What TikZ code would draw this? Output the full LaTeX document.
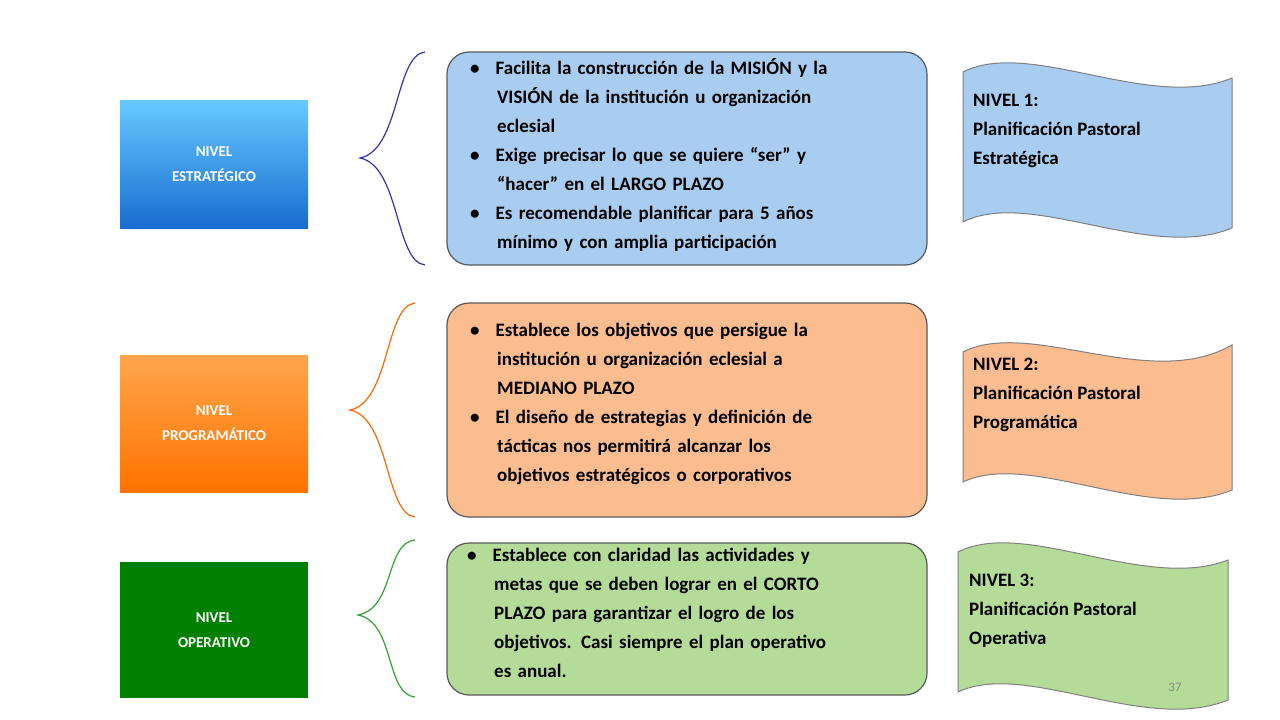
\documentclass[tikz,border=0pt]{standalone}
\usepackage{fontspec}
\setmainfont{Carlito}
\begin{document}
\begin{tikzpicture}[x=1pt,y=-1pt,
  lvl/.style={text=white,font=\bfseries\fontsize{12}{19}\selectfont,align=center,drop shadow={opacity=0.3}},
  rbox/.style={draw=black!65,line width=1.2pt,rounded corners=22pt},
  btxt/.style={anchor=north west,text width=410pt,align=left,inner sep=0pt,font=\bfseries\fontsize{19}{29}\selectfont},
  wtxt/.style={anchor=north west,align=left,inner sep=0pt,font=\bfseries\fontsize{19}{29}\selectfont},
  brace/.style={line width=1.2pt}]
\useasboundingbox (0,0) rectangle (1280,720);
\definecolor{bfill}{HTML}{A9CDF1}
\definecolor{ofill}{HTML}{FBBC90}
\definecolor{gfill}{HTML}{B4DC98}
% left boxes
\shade[top color=blue!35!cyan!60!white,bottom color=blue!55!cyan!80!black!90] (120,100) rectangle (308,228);
\node[text=white,font=\bfseries\fontsize{15}{25}\selectfont,align=center] (l1) at (214,164) {NIVEL\\ESTRATÉGICO};
\shade[top color=orange!70,bottom color=orange!90!red] (120,355) rectangle (308,492);
\node[text=white,font=\bfseries\fontsize{15}{25}\selectfont,align=center] (l2) at (214,423) {NIVEL\\PROGRAMÁTICO};
\fill[green!50!black] (120,562) rectangle (308,698);
\node[text=white,font=\bfseries\fontsize{15}{25}\selectfont,align=center] (l3) at (214,630) {NIVEL\\OPERATIVO};
% braces
\draw[brace,blue!60!black!80] (425,52) .. controls (395,55) and (400,150) .. (360,158) .. controls (400,166) and (395,262) .. (425,265);
\draw[brace,orange!80!red] (415,303) .. controls (385,306) and (390,402) .. (350,410) .. controls (390,418) and (385,514) .. (415,517);
\draw[brace,green!55!black!80] (415,540) .. controls (385,543) and (395,608) .. (358,615) .. controls (395,622) and (385,694) .. (415,697);
% rounded boxes
\draw[rbox,fill=bfill] (447,52) rectangle (927,265);
\draw[rbox,fill=ofill] (447,303) rectangle (927,517);
\draw[rbox,fill=gfill] (447,543) rectangle (927,695);
\node[btxt] (t1) at (470,58) {\textbullet\hspace{16pt}Facilita la construcción de la MISIÓN y la\\\hspace*{27pt}VISIÓN de la institución u organización\\\hspace*{27pt}eclesial\\\textbullet\hspace{16pt}Exige precisar lo que se quiere “ser” y\\\hspace*{27pt}“hacer” en el LARGO PLAZO\\\textbullet\hspace{16pt}Es recomendable planificar para 5 años\\\hspace*{27pt}mínimo y con amplia participación};
\node[btxt] (t2) at (470,323) {\textbullet\hspace{16pt}Establece los objetivos que persigue la\\\hspace*{27pt}institución u organización eclesial a\\\hspace*{27pt}MEDIANO PLAZO\\\textbullet\hspace{16pt}El diseño de estrategias y definición de\\\hspace*{27pt}tácticas nos permitirá alcanzar los\\\hspace*{27pt}objetivos estratégicos o corporativos};
\node[btxt] (t3) at (467,548) {\textbullet\hspace{16pt}Establece con claridad las actividades y\\\hspace*{27pt}metas que se deben lograr en el CORTO\\\hspace*{27pt}PLAZO para garantizar el logro de los\\\hspace*{27pt}objetivos. Casi siempre el plan operativo\\\hspace*{27pt}es anual.};
% waves
\draw[fill=bfill,draw=black!50,line width=1pt] (963,72) .. controls (1030,38) and (1150,112) .. (1232,78) -- (1232,228) .. controls (1150,262) and (1030,188) .. (963,222) -- cycle;
\draw[fill=ofill,draw=black!50,line width=1pt] (963,352) .. controls (1030,318) and (1150,392) .. (1232,345) -- (1232,490) .. controls (1150,524) and (1030,450) .. (963,482) -- cycle;
\draw[fill=gfill,draw=black!50,line width=1pt] (958,552) .. controls (1025,518) and (1145,592) .. (1228,560) -- (1228,700) .. controls (1145,734) and (1025,660) .. (958,692) -- cycle;
\node[wtxt] (w1) at (973,94) {NIVEL 1:\\Planificación Pastoral\\Estratégica};
\node[wtxt] (w2) at (973,358) {NIVEL 2:\\Planificación Pastoral\\Programática};
\node[wtxt] (w3) at (969,574) {NIVEL 3:\\Planificación Pastoral\\Operativa};
\node[text=black!45,font=\fontsize{13}{15}\selectfont] (pg) at (1175,687) {37};
\end{tikzpicture}
\end{document}
